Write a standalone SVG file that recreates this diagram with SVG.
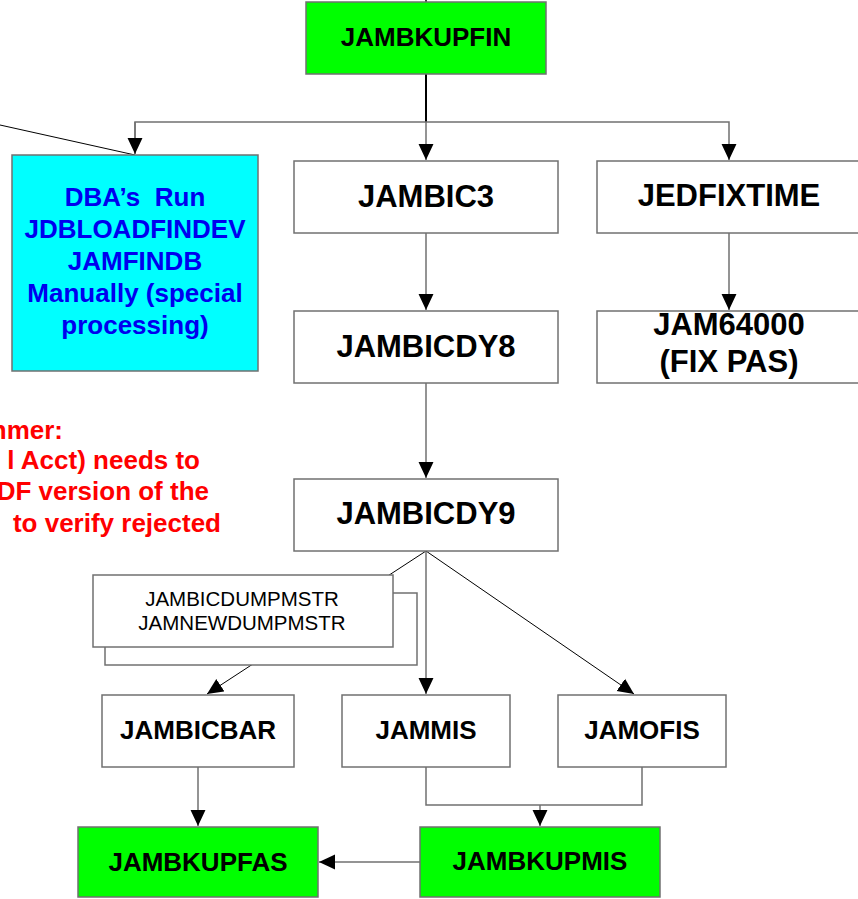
<svg xmlns="http://www.w3.org/2000/svg" width="858" height="899" viewBox="0 0 858 899">
<style>
  .box { fill: #ffffff; stroke: #707070; stroke-width: 1.5; }
  .green { fill: #00ff00; stroke: #707070; stroke-width: 1.5; }
  .cyan { fill: #00ffff; stroke: #707070; stroke-width: 1.5; }
  .t { font-family: "Liberation Sans", Arial, sans-serif; font-weight: bold; text-anchor: middle; fill: #000000; }
  .big { font-size: 31px; }
  .med { font-size: 26px; }
  .blue { font-family: "Liberation Sans", Arial, sans-serif; font-weight: bold; font-size: 26px; text-anchor: middle; fill: #0000ee; }
  .red { font-family: "Liberation Sans", Arial, sans-serif; font-weight: bold; font-size: 26px; text-anchor: end; fill: #ff0000; }
  .reg { font-family: "Liberation Sans", Arial, sans-serif; font-size: 20.5px; text-anchor: middle; fill: #000000; }
  .c { fill: none; stroke: #707070; stroke-width: 1.5; }
  .cb { fill: none; stroke: #000000; stroke-width: 1; }
</style>
<defs>
  <marker id="ah" markerUnits="userSpaceOnUse" markerWidth="16" markerHeight="16" viewBox="0 0 15 14" refX="15" refY="7" orient="auto">
    <path d="M0,0 L15,7 L0,14 z" fill="#000000"/>
  </marker>
</defs>

<g id="connectors">
  <line x1="426" y1="0" x2="426" y2="2" stroke="#000" stroke-width="1.5"/>
  <line x1="426" y1="74" x2="426" y2="122" stroke="#000" stroke-width="2"/>
  <polyline class="c" points="135,154 135,122 729,122 729,160" marker-end="url(#ah)"/>
  <line class="c" x1="135" y1="122" x2="135" y2="154" marker-end="url(#ah)"/>
  <line class="c" x1="426" y1="122" x2="426" y2="160" marker-end="url(#ah)"/>
  <line class="c" x1="426" y1="233" x2="426" y2="310" marker-end="url(#ah)"/>
  <line class="c" x1="729" y1="233" x2="729" y2="310" marker-end="url(#ah)"/>
  <line class="c" x1="426" y1="383" x2="426" y2="478" marker-end="url(#ah)"/>
  <line class="cb" x1="0" y1="125" x2="135" y2="155"/>
  <line class="cb" x1="426" y1="551" x2="207" y2="694" marker-end="url(#ah)"/>
  <line class="c" x1="426" y1="551" x2="426" y2="694" marker-end="url(#ah)"/>
  <line class="cb" x1="426" y1="551" x2="634" y2="694" marker-end="url(#ah)"/>
  <line class="c" x1="198" y1="767" x2="198" y2="826" marker-end="url(#ah)"/>
  <polyline class="c" points="426,767 426,805 642,805 642,767"/>
  <line class="c" x1="540" y1="805" x2="540" y2="826" marker-end="url(#ah)"/>
  <line class="c" x1="420" y1="862" x2="319" y2="862" marker-end="url(#ah)"/>
</g>

<g id="note">
  <text class="red" x="63" y="439">nmer:</text>
  <text class="red" x="200" y="469">l Acct) needs to</text>
  <text class="red" x="209" y="500">DF version of the</text>
  <text class="red" x="221" y="532">to verify rejected</text>
</g>

<g id="JAMBKUPFIN">
  <rect class="green" x="306" y="2" width="240" height="72"/>
  <text class="t med" x="426" y="46">JAMBKUPFIN</text>
</g>

<g id="DBA">
  <rect class="cyan" x="12" y="155" width="246" height="216"/>
  <text class="blue" x="135" y="206">DBA’s&#160; Run</text>
  <text class="blue" x="135" y="238">JDBLOADFINDEV</text>
  <text class="blue" x="135" y="270">JAMFINDB</text>
  <text class="blue" x="135" y="302">Manually (special</text>
  <text class="blue" x="135" y="334">processing)</text>
</g>

<g id="JAMBIC3">
  <rect class="box" x="294" y="161" width="264" height="72"/>
  <text class="t big" x="426" y="207">JAMBIC3</text>
</g>

<g id="JEDFIXTIME">
  <rect class="box" x="597" y="161" width="264" height="72"/>
  <text class="t big" x="729" y="206">JEDFIXTIME</text>
</g>

<g id="JAMBICDY8">
  <rect class="box" x="294" y="311" width="264" height="72"/>
  <text class="t big" x="426" y="357">JAMBICDY8</text>
</g>

<g id="JAM64000">
  <rect class="box" x="597" y="311" width="264" height="72"/>
  <text class="t big" x="729" y="335">JAM64000</text>
  <text class="t big" x="729" y="372">(FIX PAS)</text>
</g>

<g id="JAMBICDY9">
  <rect class="box" x="294" y="479" width="264" height="72"/>
  <text class="t big" x="426" y="524">JAMBICDY9</text>
</g>

<g id="DUMPMSTR">
  <rect class="box" x="105" y="593" width="312" height="72"/>
  <rect class="box" x="93" y="575" width="300" height="72"/>
  <text class="reg" x="242" y="606">JAMBICDUMPMSTR</text>
  <text class="reg" x="242" y="630">JAMNEWDUMPMSTR</text>
</g>

<g id="JAMBICBAR">
  <rect class="box" x="102" y="695" width="192" height="72"/>
  <text class="t med" x="198" y="739">JAMBICBAR</text>
</g>

<g id="JAMMIS">
  <rect class="box" x="342" y="695" width="168" height="72"/>
  <text class="t med" x="426" y="739">JAMMIS</text>
</g>

<g id="JAMOFIS">
  <rect class="box" x="558" y="695" width="168" height="72"/>
  <text class="t med" x="642" y="739">JAMOFIS</text>
</g>

<g id="JAMBKUPFAS">
  <rect class="green" x="78" y="827" width="240" height="70"/>
  <text class="t med" x="198" y="871">JAMBKUPFAS</text>
</g>

<g id="JAMBKUPMIS">
  <rect class="green" x="420" y="827" width="240" height="70"/>
  <text class="t med" x="540" y="870">JAMBKUPMIS</text>
</g>
</svg>
